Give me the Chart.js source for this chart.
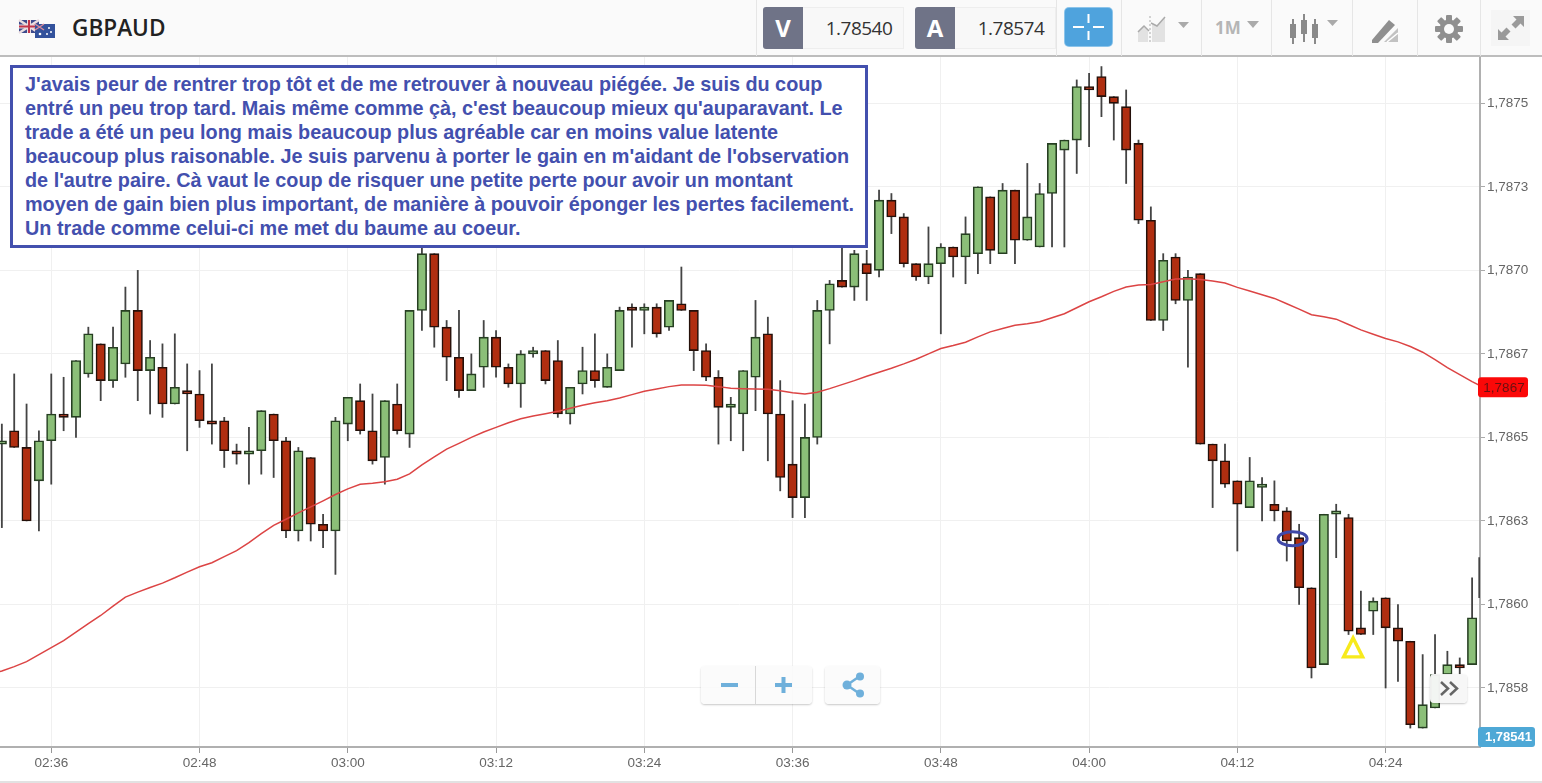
<!DOCTYPE html>
<html lang="fr">
<head>
<meta charset="utf-8">
<title>GBPAUD</title>
<script src="https://cdn.jsdelivr.net/npm/chart.js@4"></script>
<style>
html,body{margin:0;padding:0;background:#fff;width:1542px;height:783px;overflow:hidden;font-family:"Liberation Sans",Arial,sans-serif}
#c{position:absolute;left:0;top:0;width:1542px;height:783px}
#bar{position:absolute;left:0;top:0;width:1542px;height:55px;background:#fafafa;border-bottom:2px solid #bdbdbd}
.abs{position:absolute}
.sep{position:absolute;top:0;width:1px;height:56px;background:#e6e6e6}
#note{position:absolute;left:10px;top:65px;width:858px;height:183px;box-sizing:border-box;border:3px solid #4350ae;background:#fff;color:#4350ae;font:bold 19.82px/24px "Liberation Sans",Arial,sans-serif;padding:4px 0 0 12px;white-space:nowrap}
.k{position:absolute;top:7px;height:42px;width:40px;background:#6f7387;color:#fff;font:bold 24px/42px "Open Sans",sans-serif;text-align:center;border-radius:3px 0 0 3px}
.v{position:absolute;top:7px;height:40px;width:88px;padding-left:12px;background:#f8f8f8;border:1px solid #eee;border-left:0;color:#333;font:19px/40px "Open Sans",sans-serif;text-align:center;letter-spacing:-.5px}
.btn{position:absolute;background:rgba(250,250,250,.85);border-radius:4px;box-shadow:0 1px 2px rgba(0,0,0,.22)}
#foot{position:absolute;left:0;top:781px;width:1542px;height:2px;background:#e2e2e2}
</style>
</head>
<body>
<canvas id="c" width="1542" height="783"></canvas>

<div id="bar"></div>
<svg class="abs" style="left:18px;top:18px" width="40" height="22" viewBox="0 0 40 22">
  <rect x="1" y="2" width="20" height="13" fill="#3c4a8c"/>
  <path d="M1 2l20 13M21 2L1 15" stroke="#eadde0" stroke-width="2.6"/>
  <path d="M11 2v13M1 8.5h20" stroke="#eadde0" stroke-width="4"/>
  <path d="M11 2v13M1 8.5h20" stroke="#c2354a" stroke-width="2"/>
  <rect x="17" y="6" width="20" height="14" fill="#33529c"/>
  <path d="M17 6l9 6M26 6l-9 6" stroke="#d98a9a" stroke-width="1.5"/>
  <circle cx="31" cy="10" r="1" fill="#fff"/><circle cx="33" cy="14" r="1" fill="#fff"/><circle cx="29" cy="16" r="1" fill="#fff"/><circle cx="22" cy="16" r="1.3" fill="#fff"/>
</svg>
<div class="abs" style="left:72px;top:13px;font:600 22.6px/30px 'Open Sans',sans-serif;color:#222">GBPAUD</div>

<div class="sep" style="left:756px"></div>
<div class="k" style="left:763px">V</div><div class="v" style="left:803px">1.78540</div>
<div class="k" style="left:915px">A</div><div class="v" style="left:955px">1.78574</div>
<div class="sep" style="left:1056px"></div>
<div class="abs" style="left:1065px;top:8px;width:47px;height:38px;background:#4fa3dd;border-radius:4px;box-shadow:0 0 0 1px #8cc4ea"></div>
<svg class="abs" style="left:1065px;top:8px" width="47" height="38" viewBox="0 0 47 38"><path d="M8 19h11M28 19h11M23.5 6v9M23.5 23v9" stroke="#fff" stroke-width="2"/></svg>
<div class="sep" style="left:1121px"></div>
<svg class="abs" style="left:1136px;top:14px" width="56" height="30" viewBox="0 0 56 30">
  <path d="M2 28V17l5-5 5 5v11zM16 28V9l5 3 8-9v25z" fill="#e2e2e2"/><path d="M2 18l6-6 5 5M15 9l6 3 8-9" stroke="#aaa" stroke-width="1.5" fill="none"/><path d="M14 2v27" stroke="#aaa" stroke-width="1" stroke-dasharray="2 2"/>
  <path d="M42 8h11l-5.5 6z" fill="#aaa"/>
</svg>
<div class="sep" style="left:1201px"></div>
<div class="abs" style="left:1215px;top:14px;font:bold 17px/28px 'Open Sans',sans-serif;color:#b5b5b5">1M</div>
<svg class="abs" style="left:1246px;top:20px" width="14" height="10"><path d="M1 1h12l-6 7z" fill="#aaa"/></svg>
<div class="sep" style="left:1271px"></div>
<svg class="abs" style="left:1288px;top:14px" width="52" height="32" viewBox="0 0 52 32">
  <path d="M5 5v25M16 0v28M27 5v25" stroke="#8a8a8a" stroke-width="2"/><rect x="2" y="10" width="6" height="14" fill="#8a8a8a"/><rect x="13" y="6" width="6" height="14" fill="#8a8a8a"/><rect x="24" y="10" width="6" height="14" fill="#8a8a8a"/>
  <path d="M39 6h11l-5.500 6z" fill="#aaa"/>
</svg>
<div class="sep" style="left:1352px"></div>
<svg class="abs" style="left:1370px;top:16px" width="30" height="28" viewBox="0 0 30 28">
  <path d="M2 24L19 4l6 5L8 27H2z" fill="#8f8f8f"/><path d="M14 26L28 12v14z" fill="#c2c2c2"/><path d="M17 26l11-9" stroke="#fff" stroke-width="1.500"/>
</svg>
<div class="sep" style="left:1417px"></div>
<svg class="abs" style="left:1434px;top:14px" width="30" height="30" viewBox="0 0 30 30">
  <g fill="#8f8f8f"><circle cx="15" cy="15" r="9.500"/><rect x="12" y="1" width="6" height="28" rx="1"/><rect x="12" y="1" width="6" height="28" rx="1" transform="rotate(45 15 15)"/><rect x="12" y="1" width="6" height="28" rx="1" transform="rotate(90 15 15)"/><rect x="12" y="1" width="6" height="28" rx="1" transform="rotate(135 15 15)"/></g>
  <circle cx="15" cy="15" r="5" fill="#fafafa"/>
</svg>
<div class="sep" style="left:1480px"></div>
<div class="abs" style="left:1491px;top:10px;width:39px;height:36px;background:#f5f5f5"></div>
<svg class="abs" style="left:1496px;top:14px" width="30" height="28" viewBox="0 0 30 28">
  <path d="M17 2h11v11l-3.500-3.500-5 5-4-4 5-5zM13 26H2V15l3.500 3.500 5-5 4 4-5 5z" fill="#9a9a9a"/>
</svg>

<div id="note">J'avais peur de rentrer trop tôt et de me retrouver à nouveau piégée. Je suis du coup<br>entré un peu trop tard. Mais même comme çà, c'est beaucoup mieux qu'auparavant. Le<br>trade a été un peu long mais beaucoup plus agréable car en moins value latente<br>beaucoup plus raisonable. Je suis parvenu à porter le gain en m'aidant de l'observation<br>de l'autre paire. Cà vaut le coup de risquer une petite perte pour avoir un montant<br>moyen de gain bien plus important, de manière à pouvoir éponger les pertes facilement.<br>Un trade comme celui-ci me met du baume au coeur.</div>

<div class="btn" style="left:701px;top:666px;width:111px;height:38px"></div>
<div class="abs" style="left:755px;top:666px;width:1px;height:38px;background:#d8d8d8"></div>
<svg class="abs" style="left:701px;top:666px" width="111" height="38" viewBox="0 0 111 38"><path d="M20 19h17M74 19h17M82.500 11v16" stroke="#6fb0db" stroke-width="4"/></svg>
<div class="btn" style="left:825px;top:666px;width:55px;height:38px"></div>
<svg class="abs" style="left:825px;top:666px" width="55" height="38" viewBox="0 0 55 38"><path d="M35 10L22 19l13 9" stroke="#6fb0db" stroke-width="2.500" fill="none"/><circle cx="35" cy="10.500" r="4" fill="#6fb0db"/><circle cx="22" cy="19" r="4.500" fill="#6fb0db"/><circle cx="35" cy="27.500" r="4" fill="#6fb0db"/></svg>
<div class="btn" style="left:1430px;top:674px;width:37px;height:29px;background:rgba(247,247,247,.96)"></div>
<svg class="abs" style="left:1430px;top:674px" width="37" height="29" viewBox="0 0 37 29"><path d="M11 8l7 6.500-7 6.500M20 8l7 6.500-7 6.500" stroke="#666" stroke-width="2.500" fill="none"/></svg>
<div id="foot"></div>

<script>
const minutes = [152,153,154,155,156,157,158,159,160,161,162,163,164,165,166,167,168,169,170,171,172,173,174,175,176,177,178,179,180,181,182,183,184,185,186,187,188,189,190,191,192,193,194,195,196,197,198,199,200,201,202,203,204,205,206,207,208,209,210,211,212,213,214,215,216,217,218,219,220,221,222,223,224,225,226,227,228,229,230,231,232,233,234,235,236,237,238,239,240,241,242,243,244,245,246,247,248,249,250,251,252,253,254,255,256,257,258,259,260,261,262,263,264,265,266,267,268,269,270,271];
const opens = [1.78648,1.78652,1.78647,1.78637,1.78649,1.78657,1.78656,1.78669,1.78678,1.78667,
1.78672,1.78688,1.78670,1.78671,1.78660,1.78664,1.78663,1.78655,1.78655,1.78646,
1.78645,1.78646,1.78657,1.78649,1.78622,1.78644,1.78624,1.78622,1.78654,1.78661,
1.78652,1.78644,1.78660,1.78651,1.78688,1.78705,1.78683,1.78674,1.78664,1.78671,
1.78680,1.78671,1.78666,1.78675,1.78676,1.78673,1.78657,1.78666,1.78670,1.78665,
1.78670,1.78689,1.78688,1.78689,1.78683,1.78690,1.78688,1.78676,1.78668,1.78659,
1.78657,1.78668,1.78681,1.78657,1.78642,1.78632,1.78650,1.78688,1.78697,1.78695,
1.78702,1.78700,1.78721,1.78716,1.78702,1.78698,1.78702,1.78707,1.78704,1.78705,
1.78722,1.78705,1.78724,1.78709,1.78707,1.78723,1.78736,1.78739,1.78755,1.78758,
1.78752,1.78749,1.78738,1.78715,1.78685,1.78704,1.78691,1.78699,1.78648,1.78643,
1.78637,1.78629,1.78635,1.78630,1.78628,1.78620,1.78605,1.78582,1.78627,1.78626,
1.78593,1.78598,1.78602,1.78593,1.78589,1.78563,1.78569,1.78579,1.78582,1.78582];
const highs = [1.78654,1.78669,1.78660,1.78652,1.78669,1.78668,1.78673,1.78683,1.78678,1.78683,
1.78695,1.78700,1.78679,1.78678,1.78681,1.78672,1.78670,1.78672,1.78656,1.78648,
1.78653,1.78658,1.78657,1.78650,1.78647,1.78644,1.78627,1.78656,1.78662,1.78666,
1.78663,1.78661,1.78666,1.78688,1.78708,1.78705,1.78685,1.78688,1.78675,1.78685,
1.78682,1.78672,1.78676,1.78677,1.78676,1.78679,1.78665,1.78677,1.78681,1.78675,
1.78689,1.78690,1.78690,1.78690,1.78691,1.78701,1.78688,1.78678,1.78670,1.78662,
1.78670,1.78691,1.78686,1.78667,1.78661,1.78660,1.78691,1.78697,1.78713,1.78706,
1.78706,1.78724,1.78723,1.78717,1.78702,1.78713,1.78708,1.78707,1.78716,1.78725,
1.78722,1.78726,1.78724,1.78732,1.78726,1.78738,1.78739,1.78757,1.78759,1.78761,
1.78752,1.78754,1.78739,1.78719,1.78705,1.78705,1.78700,1.78699,1.78648,1.78648,
1.78637,1.78644,1.78638,1.78637,1.78629,1.78624,1.78605,1.78627,1.78630,1.78627,
1.78604,1.78602,1.78602,1.78600,1.78589,1.78585,1.78591,1.78586,1.78584,1.78608];
const lows = [1.78623,1.78647,1.78625,1.78622,1.78636,1.78652,1.78650,1.78668,1.78661,1.78665,
1.78668,1.78661,1.78657,1.78656,1.78660,1.78646,1.78653,1.78648,1.78641,1.78642,
1.78636,1.78639,1.78638,1.78620,1.78619,1.78619,1.78617,1.78609,1.78649,1.78651,
1.78642,1.78636,1.78651,1.78647,1.78682,1.78677,1.78667,1.78662,1.78664,1.78665,
1.78668,1.78665,1.78659,1.78674,1.78666,1.78656,1.78654,1.78663,1.78665,1.78665,
1.78670,1.78677,1.78681,1.78680,1.78682,1.78688,1.78670,1.78667,1.78648,1.78649,
1.78646,1.78658,1.78643,1.78634,1.78626,1.78626,1.78648,1.78678,1.78695,1.78691,
1.78691,1.78698,1.78711,1.78701,1.78697,1.78696,1.78681,1.78698,1.78696,1.78699,
1.78702,1.78705,1.78702,1.78709,1.78707,1.78707,1.78707,1.78729,1.78737,1.78746,
1.78739,1.78726,1.78714,1.78685,1.78682,1.78690,1.78671,1.78648,1.78629,1.78635,
1.78616,1.78629,1.78625,1.78625,1.78613,1.78600,1.78578,1.78582,1.78614,1.78591,
1.78591,1.78591,1.78575,1.78577,1.78563,1.78563,1.78569,1.78579,1.78579,1.78582];
const closes = [1.78649,1.78647,1.78625,1.78649,1.78657,1.78656,1.78673,1.78681,1.78667,1.78677,
1.78688,1.78670,1.78674,1.78660,1.78665,1.78663,1.78655,1.78654,1.78646,1.78645,
1.78646,1.78658,1.78649,1.78622,1.78646,1.78624,1.78622,1.78655,1.78662,1.78652,
1.78643,1.78661,1.78652,1.78688,1.78705,1.78683,1.78674,1.78664,1.78669,1.78680,
1.78671,1.78666,1.78675,1.78676,1.78667,1.78657,1.78665,1.78670,1.78667,1.78671,
1.78688,1.78688,1.78689,1.78681,1.78691,1.78688,1.78676,1.78668,1.78659,1.78660,
1.78670,1.78680,1.78657,1.78638,1.78632,1.78650,1.78688,1.78696,1.78695,1.78705,
1.78699,1.78721,1.78716,1.78702,1.78698,1.78702,1.78707,1.78704,1.78711,1.78725,
1.78706,1.78724,1.78709,1.78716,1.78723,1.78738,1.78739,1.78755,1.78754,1.78752,
1.78750,1.78736,1.78715,1.78685,1.78703,1.78691,1.78698,1.78648,1.78643,1.78636,
1.78630,1.78637,1.78636,1.78628,1.78619,1.78605,1.78581,1.78627,1.78628,1.78592,
1.78591,1.78601,1.78593,1.78589,1.78564,1.78570,1.78579,1.78582,1.78581,1.78596];
const maMinutes = [151].concat(minutes,[272]);
const movingAverage = [1.785790,1.785801,1.785814,1.785829,1.785850,1.785871,1.785892,1.785917,1.785943,1.785967,1.785995,
1.786022,1.786037,1.786051,1.786064,1.786080,1.786097,1.786113,1.786125,1.786143,1.786161,
1.786185,1.786212,1.786237,1.786255,1.786274,1.786292,1.786310,1.786329,1.786346,1.786360,
1.786363,1.786367,1.786375,1.786391,1.786418,1.786442,1.786465,1.786482,1.786500,1.786516,
1.786530,1.786544,1.786556,1.786564,1.786571,1.786578,1.786587,1.786596,1.786604,1.786610,
1.786618,1.786628,1.786638,1.786645,1.786652,1.786657,1.786657,1.786656,1.786652,1.786647,
1.786646,1.786645,1.786644,1.786640,1.786634,1.786630,1.786635,1.786646,1.786658,1.786670,
1.786683,1.786695,1.786707,1.786720,1.786734,1.786750,1.786766,1.786775,1.786785,1.786801,
1.786816,1.786826,1.786836,1.786840,1.786846,1.786858,1.786870,1.786888,1.786906,1.786921,
1.786937,1.786950,1.786956,1.786958,1.786966,1.786974,1.786975,1.786973,1.786968,1.786962,
1.786949,1.786938,1.786927,1.786916,1.786900,1.786884,1.786867,1.786861,1.786854,1.786838,
1.786822,1.786809,1.786796,1.786786,1.786772,1.786755,1.786733,1.786709,1.786688,1.786667,1.786648];

const xTickMinutes = [156,168,180,192,204,216,228,240,252,264];
const xTickLabels = ["02:36","02:48","03:00","03:12","03:24","03:36","03:48","04:00","04:12","04:24"];
const yTickValues = [1.7875,1.78725,1.787,1.78675,1.7865,1.78625,1.786,1.78575];
const yTickLabels = ["1,7875","1,7873","1,7870","1,7867","1,7865","1,7863","1,7860","1,7858"];
const maTag = {value: 1.78665, label: "1,7867"};
const priceTag = {label: "1,78541"};
const entryMark = {minute: 256.47, price: 1.786197};
const exitMark = {minute: 261.37, price: 1.78587};
const edgeWick = {minute: 271.58, low: 1.78602, high: 1.78614};

const UP='#8bbf78', DOWN='#b02e10', UP_EDGE='#263f22', DOWN_EDGE='#24100a';
const isUp = closes.map((c,i)=>c>opens[i]);

const overlays = {
  id:'overlays',
  afterDatasetsDraw(chart){
    const {ctx,scales:{x,y}} = chart;
    ctx.save();
    const ex=x.getPixelForValue(entryMark.minute), ey=y.getPixelForValue(entryMark.price);
    ctx.strokeStyle='#3f48a8'; ctx.lineWidth=3;
    ctx.beginPath(); ctx.ellipse(ex,ey,14.5,7,0,0,Math.PI*2); ctx.stroke();
    const tx=x.getPixelForValue(exitMark.minute), ty=y.getPixelForValue(exitMark.price);
    ctx.strokeStyle='#f7ea1c'; ctx.lineWidth=3.4; ctx.lineJoin='miter';
    ctx.beginPath(); ctx.moveTo(tx,ty-10); ctx.lineTo(tx+9.5,ty+9); ctx.lineTo(tx-9.5,ty+9); ctx.closePath(); ctx.stroke();
    ctx.restore();
  },
  afterDraw(chart){
    const {ctx,scales:{y}} = chart;
    ctx.save();
    const my=y.getPixelForValue(maTag.value);
    ctx.fillStyle='#fb0808';
    ctx.beginPath(); ctx.roundRect(1478,my-10,50,20,3); ctx.fill();
    ctx.fillStyle='#6a1010'; ctx.font='13.5px "Liberation Sans",Arial,sans-serif';
    ctx.textAlign='center'; ctx.textBaseline='middle';
    ctx.fillText(maTag.label,1504,my+0.5);
    ctx.fillStyle='#4ea8d6';
    ctx.beginPath(); ctx.roundRect(1478,727,57,20,3); ctx.fill();
    ctx.fillStyle='#fff'; ctx.font='bold 13px "Liberation Sans",Arial,sans-serif';
    ctx.fillText(priceTag.label,1508.5,737.5);
    ctx.restore();
  }
};

new Chart(document.getElementById('c'),{
  type:'bar',
  plugins:[overlays],
  data:{datasets:[
    {type:'line',label:'MA',order:1,data:movingAverage.map((v,i)=>({x:maMinutes[i],y:v})),borderColor:'#dc4444',borderWidth:1.5,pointRadius:0,tension:0},
    {label:'body',order:2,grouped:false,data:opens.map((o,i)=>({x:minutes[i],y:[o,closes[i]]})),
      backgroundColor:isUp.map(u=>u?UP:DOWN),borderColor:isUp.map(u=>u?UP_EDGE:DOWN_EDGE),borderWidth:1.6,borderSkipped:false,barThickness:9.4},
    {label:'wick',order:3,grouped:false,data:lows.map((l,i)=>({x:minutes[i],y:[l,highs[i]]})).concat([{x:edgeWick.minute,y:[edgeWick.low,edgeWick.high]}]),
      backgroundColor:'#444',borderWidth:0,barThickness:1.15}
  ]},
  options:{
    responsive:false,animation:false,devicePixelRatio:1,
    layout:{padding:{top:57,left:0,right:0,bottom:0}},
    plugins:{legend:{display:false},tooltip:{enabled:false}},
    scales:{
      x:{type:'linear',position:'bottom',offset:false,min:151.85,max:271.64,
        afterBuildTicks(s){s.ticks=xTickMinutes.map(v=>({value:v}));},
        afterFit(s){s.height=36;},
        grid:{offset:false,color:'#f0f0f0',lineWidth:1,tickColor:'#999',tickLength:6},
        border:{color:'#b0b0b0',width:2},
        ticks:{autoSkip:false,maxRotation:0,padding:2,color:'#666',font:{family:'"Liberation Sans",Arial,sans-serif',size:13.5},
          callback:(v,i)=>xTickLabels[i]}
      },
      y:{type:'linear',position:'right',min:1.7855734,max:1.7876386,
        afterBuildTicks(s){s.ticks=yTickValues.map(v=>({value:v}));},
        afterFit(s){s.width=62;},
        grid:{color:'#f0f0f0',lineWidth:1,tickColor:'#aaa',tickLength:5},
        border:{color:'#b0b0b0',width:2},
        ticks:{autoSkip:false,padding:2,color:'#666',font:{family:'"Liberation Sans",Arial,sans-serif',size:13.5},
          callback:(v,i)=>yTickLabels[i]}
      }
    }
  }
});
</script>
</body>
</html>
